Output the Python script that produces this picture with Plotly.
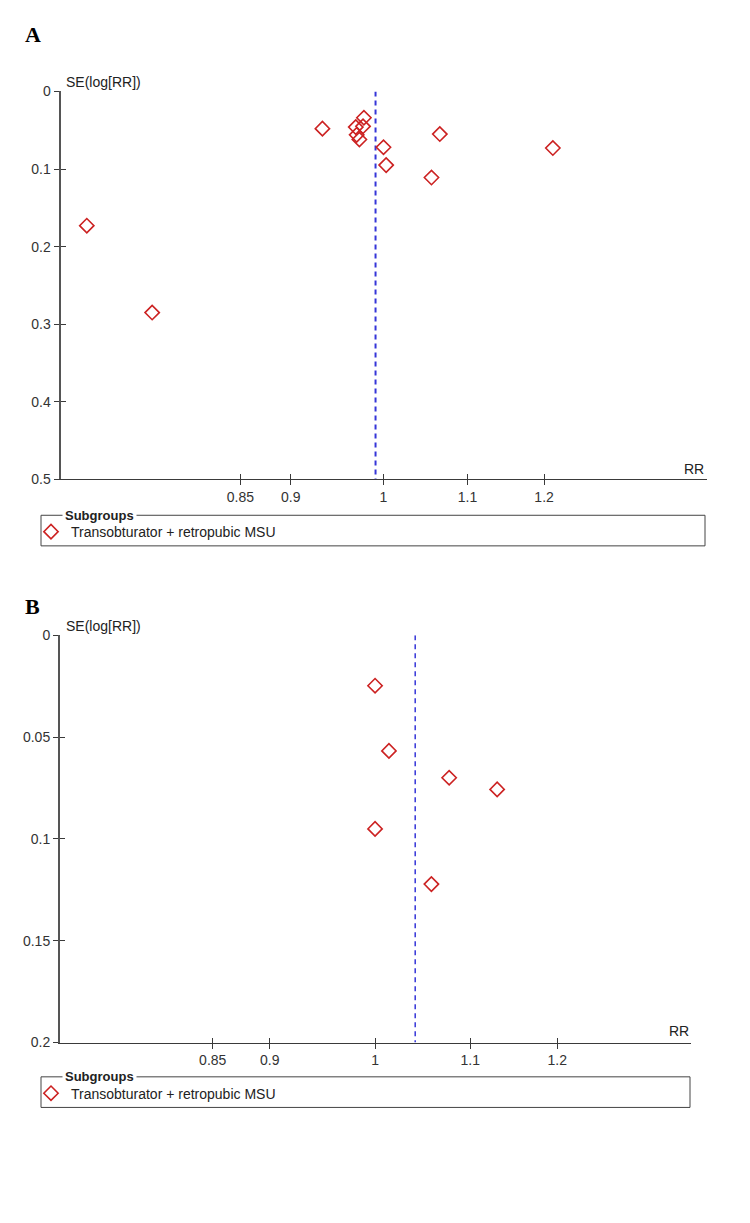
import math
import plotly.graph_objects as go

W, H = 750, 1223

# ---------------- data ----------------
# Panel A
a_rr = [0.714, 0.769, 0.933, 0.978, 0.969, 0.977, 0.970, 0.973, 1.000, 1.003, 1.066, 1.056, 1.212]
a_se = [0.173, 0.285, 0.048, 0.034, 0.046, 0.045, 0.056, 0.062, 0.072, 0.095, 0.055, 0.111, 0.073]
a_pooled = 0.991
a_xrange = [0.693, 1.443]
a_yticks = [0, 0.1, 0.2, 0.3, 0.4, 0.5]
a_yticklabels = ["0", "0.1", "0.2", "0.3", "0.4", "0.5"]

# Panel B
b_rr = [1.000, 1.014, 1.000, 1.077, 1.130, 1.058]
b_se = [0.0248, 0.0568, 0.0951, 0.0700, 0.0757, 0.1222]
b_pooled = 1.041
b_xrange = [0.7295, 1.372]
b_yticks = [0, 0.05, 0.1, 0.15, 0.2]
b_yticklabels = ["0", "0.05", "0.1", "0.15", "0.2"]

x_ticks = [0.85, 0.9, 1, 1.1, 1.2]
x_ticklabels = ["0.85", "0.9", "1", "1.1", "1.2"]
subgroup_name = "Transobturator + retropubic MSU"

# ---------------- style ----------------
RED = "#cc2222"
BLUE = "#3535d8"
AXC = "#3a3a3a"
FONT = "Liberation Sans"


def px(x):
    return x / W


def py(y):
    return 1 - y / H


fig = go.Figure()

# dashed pooled-estimate lines
fig.add_trace(go.Scatter(x=[a_pooled, a_pooled], y=[0, max(a_yticks)], mode="lines",
                         line=dict(color=BLUE, width=2, dash="5px,4px"),
                         xaxis="x", yaxis="y", showlegend=False, hoverinfo="skip"))
fig.add_trace(go.Scatter(x=[b_pooled, b_pooled], y=[0, max(b_yticks)], mode="lines",
                         line=dict(color=BLUE, width=1.5, dash="5px,4px"),
                         xaxis="x2", yaxis="y2", showlegend=False, hoverinfo="skip"))

marker = dict(symbol="diamond-open", size=11, color=RED, line=dict(color=RED, width=1.6))
fig.add_trace(go.Scatter(x=a_rr, y=a_se, mode="markers", marker=marker, name=subgroup_name,
                         xaxis="x", yaxis="y", legend="legend"))
fig.add_trace(go.Scatter(x=b_rr, y=b_se, mode="markers", marker=marker, name=subgroup_name,
                         xaxis="x2", yaxis="y2", legend="legend2"))

# empty traces so the overlay (inside-tick) axes are drawn
fig.add_trace(go.Scatter(x=[], y=[], xaxis="x3", yaxis="y3", showlegend=False))
fig.add_trace(go.Scatter(x=[], y=[], xaxis="x4", yaxis="y4", showlegend=False))

A_dom_x = [px(60.5), px(706.5)]
A_dom_y = [py(477.7), py(84.5)]
B_dom_x = [px(60), px(691)]
B_dom_y = [py(1048.3), py(635.5)]

tickfont = dict(family=FONT, size=14, color="#333333")


def xax(dom, rng, anchor, main=True, overlay=None):
    d = dict(type="log", range=[math.log10(rng[0]), math.log10(rng[1])],
             tickmode="array", tickvals=x_ticks, ticktext=x_ticklabels,
             showgrid=False, zeroline=False, ticklen=5, tickwidth=1, tickcolor=AXC,
             anchor=anchor, tickfont=tickfont)
    if main:
        d.update(domain=dom, showline=True, linecolor=AXC, linewidth=1, ticks="outside")
    else:
        d.update(overlaying=overlay, showline=False, ticks="inside", showticklabels=False)
    return d


def yax(dom, yt, ytl, anchor, main=True, overlay=None):
    d = dict(range=[max(yt), 0], tickmode="array", tickvals=yt, ticktext=ytl,
             showgrid=False, zeroline=False, ticklen=5, tickwidth=1, tickcolor=AXC,
             anchor=anchor, tickfont=tickfont)
    if main:
        d.update(domain=dom, showline=True, linecolor="#555555", linewidth=2, ticks="outside")
    else:
        d.update(overlaying=overlay, showline=False, ticks="inside", showticklabels=False)
    return d


shapes = []
annotations = []


def legend_box(x0, x1, y0, y1):
    # box with a gap in its top border for the "Subgroups" title
    shapes.append(dict(type="rect", xref="paper", yref="paper",
                       x0=px(x0), x1=px(x1), y0=py(y1), y1=py(y0),
                       line=dict(color="#444444", width=1), fillcolor="rgba(0,0,0,0)"))
    annotations.append(dict(text="<b>Subgroups</b>", xref="paper", yref="paper",
                            x=px(x0 + 21), y=py(y0), xanchor="left", yanchor="middle",
                            showarrow=False, bgcolor="white", borderpad=2,
                            font=dict(family=FONT, size=13, color="#222222")))


legend_box(41, 705, 514, 545)
legend_box(41, 690, 1083, 1114)

for lbl, yy in [("A", 27), ("B", 606)]:
    annotations.append(dict(text="<b>%s</b>" % lbl, xref="paper", yref="paper",
                            x=px(23), y=py(yy), xanchor="left", yanchor="middle",
                            showarrow=False, font=dict(family="Liberation Serif", size=22, color="black")))

for (xx, yy) in [(64, 75), (64, 626)]:
    annotations.append(dict(text="SE(log[RR])", xref="paper", yref="paper",
                            x=px(xx), y=py(yy), xanchor="left", yanchor="middle",
                            showarrow=False, font=dict(family=FONT, size=14, color="#222222")))
for (xx, yy) in [(706, 467), (691, 1037)]:
    annotations.append(dict(text="RR", xref="paper", yref="paper",
                            x=px(xx), y=py(yy), xanchor="right", yanchor="middle",
                            showarrow=False, font=dict(family=FONT, size=14, color="#222222")))

legend_common = dict(bgcolor="rgba(0,0,0,0)", borderwidth=0, xanchor="left", yanchor="middle",
                     font=dict(family=FONT, size=14, color="#222222"), itemwidth=30,
                     tracegroupgap=0)

fig.update_layout(
    width=W, height=H,
    margin=dict(l=0, r=0, t=0, b=0),
    paper_bgcolor="white", plot_bgcolor="white",
    showlegend=True,
    xaxis=xax(A_dom_x, a_xrange, "y"),
    yaxis=yax(A_dom_y, a_yticks, a_yticklabels, "x"),
    xaxis2=xax(B_dom_x, b_xrange, "y2"),
    yaxis2=yax(B_dom_y, b_yticks, b_yticklabels, "x2"),
    xaxis3=xax(A_dom_x, a_xrange, "y3", main=False, overlay="x"),
    yaxis3=yax(A_dom_y, a_yticks, a_yticklabels, "x3", main=False, overlay="y"),
    xaxis4=xax(B_dom_x, b_xrange, "y4", main=False, overlay="x2"),
    yaxis4=yax(B_dom_y, b_yticks, b_yticklabels, "x4", main=False, overlay="y2"),
    legend=dict(x=px(31), y=py(531), **legend_common),
    legend2=dict(x=px(31), y=py(1100), **legend_common),
    shapes=shapes,
    annotations=annotations,
)

fig.write_html(
    "out.html",
    config={"displayModeBar": False},
    post_script="document.body.style.margin='0';document.body.style.padding='0';"
                "document.body.style.overflow='hidden';",
)
